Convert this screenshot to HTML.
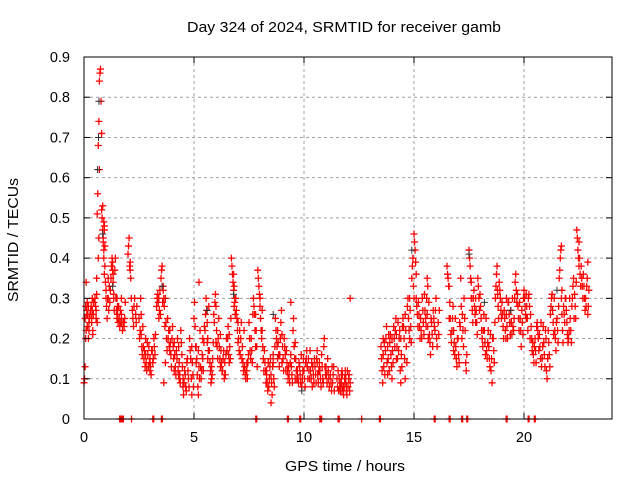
<!DOCTYPE html>
<html><head><meta charset="utf-8">
<style>
html,body{margin:0;padding:0;background:#fff;}
svg{display:block;font-family:"Liberation Sans",sans-serif;}
</style></head>
<body>
<svg id="chart" width="640" height="480" viewBox="0 0 640 480">
<rect x="0" y="0" width="640" height="480" fill="#fff"/>
<g id="grid"></g>
<g id="marksR"></g>
<g id="marksK"></g>
<rect x="84" y="57" width="528" height="362" fill="none" stroke="#000" stroke-width="1"/>
<g id="ticks"></g>
<text x="344" y="32" font-size="14.5" text-anchor="middle" textLength="314" lengthAdjust="spacingAndGlyphs">Day 324 of 2024, SRMTID for receiver gamb</text>
<text x="345" y="471" font-size="14.5" text-anchor="middle" textLength="120" lengthAdjust="spacingAndGlyphs">GPS time / hours</text>
<text x="0" y="0" font-size="14.5" text-anchor="middle" textLength="124" lengthAdjust="spacingAndGlyphs" transform="translate(18,240) rotate(-90)">SRMTID / TECUs</text>
</svg>
<script>
const xTicks=[0,5,10,15,20];
const yTicks=[0,0.1,0.2,0.3,0.4,0.5,0.6,0.7,0.8,0.9];
const yTickLabels=["0","0.1","0.2","0.3","0.4","0.5","0.6","0.7","0.8","0.9"];
const redTimes=[0.0,0.05,0.1,0.2,0.3,0.4,0.5,0.6,0.65,0.8,0.9,1.0,1.2,1.4,1.6,1.8,2.0,2.2,2.5,2.7,2.9,3.1,3.3,3.5,3.6,3.8,4.0,4.2,4.4,4.5,4.7,4.8,5.0,5.1,5.3,5.5,5.7,5.9,6.1,6.3,6.5,6.7,6.9,7.1,7.3,7.5,7.7,7.9,8.0,8.2,8.4,8.5,8.7,8.9,9.1,9.3,9.5,9.7,9.9,10.1,10.3,10.5,10.7,10.9,11.1,11.3,11.6,11.8,12.0,12.1,13.5,13.7,13.9,14.1,14.3,14.5,14.7,14.9,15.0,15.1,15.3,15.5,15.7,15.9,16.0,16.5,16.7,16.9,17.1,17.3,17.5,17.7,17.9,18.1,18.3,18.5,18.7,18.9,19.1,19.3,19.5,19.6,19.8,20.0,20.2,20.4,20.6,20.8,21.0,21.2,21.4,21.6,21.8,22.0,22.2,22.4,22.6,22.8,22.9];
const redValues=[
[0.09,0.1,0.13,0.2],[0.25,0.28,0.34,0.27],[0.22,0.26,0.29],[0.2,0.22,0.25,0.26],[0.27,0.28,0.24,0.3],[0.21,0.26,0.29],[0.3,0.28,0.25,0.35],[0.51,0.56,0.4,0.45,0.62],[0.68,0.74,0.84,0.86,0.87,0.79,0.71],[0.52,0.5,0.53,0.45,0.42,0.48,0.38],[0.49,0.47,0.43,0.34,0.3],[0.32,0.28,0.25,0.3,0.35,0.27],[0.32,0.35,0.38,0.4,0.39,0.36,0.3],[0.37,0.4,0.3,0.27,0.25,0.28],[0.25,0.23,0.27,0.24,0.3],[0.24,0.23,0.25,0.29],[0.41,0.43,0.45,0.38,0.37],[0.27,0.25,0.23,0.28,0.3],[0.25,0.2,0.22,0.3,0.26],[0.18,0.15,0.17,0.13,0.2,0.14],[0.16,0.13,0.18,0.14,0.12],[0.17,0.14,0.15,0.2],[0.28,0.3,0.31,0.29,0.25],[0.35,0.37,0.38,0.29,0.32,0.09],[0.33,0.3,0.28,0.23,0.14],[0.25,0.2,0.22,0.18,0.17],[0.2,0.23,0.18,0.15,0.12],[0.17,0.15,0.2,0.12,0.11,0.1],[0.22,0.19,0.16,0.13,0.1],[0.08,0.06,0.09,0.12],[0.15,0.12,0.1,0.08],[0.2,0.17,0.15,0.1,0.06],[0.25,0.29,0.23,0.18,0.14],[0.18,0.15,0.11,0.08,0.06,0.34],[0.13,0.1,0.12,0.16,0.2],[0.22,0.26,0.3,0.27,0.19,0.15],[0.17,0.14,0.12,0.09,0.1],[0.26,0.24,0.29,0.31,0.19],[0.2,0.25,0.18,0.15,0.13],[0.12,0.15,0.17,0.1,0.11],[0.17,0.2,0.23,0.16,0.14],[0.4,0.38,0.36,0.34,0.32,0.28,0.3],[0.3,0.27,0.25,0.22,0.19],[0.16,0.2,0.24,0.15],[0.13,0.11,0.1,0.12,0.14],[0.24,0.2,0.17,0.15],[0.3,0.28,0.26,0.22,0.18],[0.37,0.35,0.33,0.31,0.3],[0.28,0.25,0.22,0.2,0.27],[0.17,0.14,0.12,0.09,0.11],[0.08,0.1,0.13,0.15,0.04],[0.11,0.09,0.06,0.13,0.16],[0.25,0.22,0.2,0.18,0.15],[0.16,0.2,0.24,0.27,0.14],[0.2,0.18,0.16,0.12],[0.13,0.11,0.09,0.14,0.29],[0.22,0.25,0.18,0.15,0.1],[0.12,0.1,0.09,0.14],[0.08,0.1,0.12,0.15],[0.15,0.17,0.13,0.1],[0.12,0.1,0.14,0.08],[0.13,0.11,0.09,0.15,0.17],[0.14,0.12,0.1,0.08],[0.18,0.2,0.13,0.11],[0.12,0.1,0.08],[0.09,0.11,0.13,0.07],[0.1,0.08,0.07,0.09,0.11,0.12],[0.06,0.08,0.1,0.12,0.09,0.07],[0.08,0.1,0.11,0.07,0.09],[0.3],[0.18,0.15,0.12,0.09,0.2],[0.17,0.2,0.23,0.14,0.11],[0.19,0.21,0.16,0.13,0.1],[0.2,0.18,0.22,0.25,0.15],[0.17,0.2,0.22,0.12,0.09],[0.25,0.23,0.2,0.15,0.1],[0.28,0.3,0.25,0.22,0.2],[0.35,0.38,0.4,0.33,0.3],[0.46,0.44,0.42,0.39,0.36],[0.3,0.28,0.26,0.23],[0.25,0.22,0.2,0.3,0.27],[0.27,0.25,0.23,0.3,0.35,0.33],[0.21,0.19,0.16,0.25],[0.25,0.23,0.22,0.27],[0.3,0.2,0.18],[0.38,0.36,0.35,0.33,0.25],[0.19,0.22,0.25,0.28,0.17],[0.18,0.15,0.13,0.2],[0.23,0.35,0.28,0.2],[0.25,0.22,0.14,0.12,0.16],[0.42,0.4,0.38,0.35,0.3],[0.3,0.32,0.28,0.26,0.24],[0.35,0.33,0.3,0.27],[0.2,0.18,0.22,0.26],[0.17,0.15,0.19,0.22],[0.12,0.15,0.09,0.2],[0.3,0.33,0.36,0.38,0.32],[0.32,0.3,0.27,0.25],[0.27,0.25,0.22,0.2,0.3],[0.29,0.26,0.24,0.21],[0.23,0.22,0.25,0.3],[0.34,0.36,0.32,0.29],[0.29,0.25,0.22,0.18],[0.32,0.3,0.28,0.26,0.25],[0.3,0.31,0.28,0.2],[0.19,0.16,0.14,0.18],[0.24,0.22,0.2,0.17],[0.13,0.15,0.18,0.23],[0.2,0.12,0.1,0.15],[0.26,0.28,0.3,0.31],[0.22,0.2,0.17,0.24],[0.35,0.37,0.4,0.42,0.43,0.32],[0.28,0.26,0.24,0.3],[0.19,0.2,0.22,0.3],[0.3,0.33,0.35,0.25],[0.47,0.45,0.42,0.4,0.38],[0.38,0.35,0.33,0.3],[0.3,0.28,0.33,0.35,0.39],[0.26,0.28,0.32]];
const fillTimes=[0.15,0.35,0.55,0.85,1.1,1.3,1.5,1.7,2.1,2.35,2.6,2.8,3.0,3.2,3.4,3.7,3.9,4.1,4.3,4.6,4.9,5.2,5.4,5.6,5.8,6.0,6.2,6.4,6.6,6.8,7.0,7.2,7.4,7.6,7.8,8.1,8.3,8.6,8.8,9.0,9.2,9.4,9.6,9.8,10.0,10.2,10.4,10.6,10.8,11.0,11.2,11.5,11.7,11.9,13.6,13.8,14.0,14.2,14.4,14.6,14.8,15.2,15.4,15.6,15.8,16.1,16.6,16.8,17.0,17.2,17.6,17.8,18.0,18.2,18.4,18.6,18.8,19.0,19.2,19.4,19.7,19.9,20.1,20.3,20.5,20.7,20.9,21.1,21.3,21.5,21.7,21.9,22.1,22.3,22.5,22.7];
const fillValues=[[0.23,0.26,0.28,0.24],[0.25,0.27,0.22,0.29],[0.27,0.31,0.24],[0.47,0.44,0.4,0.36],[0.3,0.27,0.33,0.29],[0.37,0.34,0.31,0.27],[0.3,0.26,0.24,0.28],[0.26,0.24,0.22],[0.39,0.35,0.3],[0.26,0.24,0.28],[0.21,0.18,0.16,0.23],[0.16,0.14,0.12,0.19],[0.15,0.13,0.11,0.17],[0.18,0.16,0.21],[0.3,0.27,0.32,0.26],[0.3,0.24,0.2,0.17],[0.22,0.19,0.16,0.13],[0.19,0.16,0.13,0.11],[0.18,0.14,0.11,0.09],[0.11,0.08,0.07,0.14],[0.18,0.14,0.11,0.08],[0.17,0.13,0.1,0.22],[0.15,0.12,0.19,0.23],[0.24,0.2,0.17,0.28],[0.13,0.11,0.15,0.19],[0.28,0.22,0.18,0.15],[0.21,0.17,0.14,0.12],[0.14,0.11,0.16,0.2],[0.21,0.18,0.15,0.25],[0.36,0.33,0.29,0.26],[0.24,0.2,0.17,0.22],[0.18,0.14,0.12,0.22],[0.12,0.1,0.14,0.16],[0.2,0.17,0.14,0.26],[0.26,0.22,0.18,0.13],[0.22,0.18,0.15,0.12],[0.12,0.09,0.07,0.14],[0.14,0.1,0.08,0.18],[0.22,0.19,0.16,0.13],[0.21,0.18,0.15,0.12],[0.17,0.14,0.12,0.1],[0.16,0.13,0.11,0.09],[0.19,0.15,0.12,0.1],[0.13,0.11,0.09,0.16],[0.12,0.1,0.08,0.14],[0.15,0.12,0.1,0.17],[0.13,0.11,0.09,0.15],[0.14,0.11,0.09,0.12],[0.16,0.13,0.1,0.09],[0.13,0.11,0.09,0.15],[0.11,0.09,0.07,0.13],[0.1,0.08,0.12,0.07],[0.09,0.07,0.11,0.08],[0.1,0.08,0.06,0.12],[0.16,0.13,0.19,0.11],[0.18,0.15,0.21,0.12],[0.2,0.17,0.14,0.23],[0.21,0.18,0.15,0.24],[0.2,0.16,0.13,0.23],[0.26,0.22,0.18,0.14],[0.3,0.27,0.23,0.19],[0.29,0.26,0.23,0.2],[0.27,0.24,0.21,0.31],[0.26,0.23,0.2,0.29],[0.24,0.21,0.18,0.27],[0.24,0.21,0.27],[0.33,0.29,0.25,0.21],[0.22,0.19,0.16,0.25],[0.2,0.16,0.14,0.24],[0.26,0.22,0.18,0.3],[0.34,0.3,0.27,0.24],[0.3,0.27,0.24,0.21],[0.31,0.28,0.25,0.22],[0.22,0.19,0.16,0.25],[0.18,0.15,0.13,0.21],[0.2,0.17,0.14,0.24],[0.31,0.28,0.25,0.34],[0.29,0.26,0.23,0.2],[0.26,0.23,0.2,0.29],[0.27,0.24,0.21,0.3],[0.31,0.28,0.25,0.22],[0.27,0.24,0.21,0.3],[0.31,0.28,0.25,0.22],[0.26,0.23,0.2,0.17],[0.2,0.17,0.14,0.23],[0.21,0.18,0.15,0.24],[0.19,0.16,0.13,0.22],[0.22,0.19,0.16,0.13],[0.27,0.24,0.21,0.3],[0.25,0.22,0.19,0.28],[0.3,0.26,0.22,0.19],[0.3,0.27,0.24,0.21],[0.25,0.22,0.19,0.28],[0.31,0.28,0.25,0.34],[0.44,0.4,0.36,0.33],[0.36,0.33,0.3,0.27]];
const zeroTimes=[1.62,1.66,1.7,1.75,1.79,2.16,3.13,3.17,3.52,3.56,7.81,7.85,9.25,9.29,9.81,9.85,10.72,10.76,10.8,11.55,11.6,12.62,13.43,13.47,15.92,15.96,16.6,16.64,17.17,17.21,17.4,17.44,19.19,19.23,20.19,20.23,20.47,20.51];
const blackTimes=[0.62,0.66,0.68,0.85,1.3,3.55,5.6,6.8,8.6,9.9,14.9,17.5,18.2,19.4,21.5];
const blackValues=[0.62,0.7,0.79,0.46,0.33,0.33,0.27,0.31,0.26,0.07,0.42,0.41,0.29,0.27,0.32];

const L=84,R=612,T=57,B=419,XMAX=24,YMAX=0.9;
const xs=t=>L+t/XMAX*(R-L);
const ys=v=>B-v/YMAX*(B-T);
const NS="http://www.w3.org/2000/svg";
function mk(tag,attrs,parent){const e=document.createElementNS(NS,tag);for(const k in attrs)e.setAttribute(k,attrs[k]);parent.appendChild(e);return e;}
const grid=document.getElementById('grid'),ticks=document.getElementById('ticks');
xTicks.forEach((t,i)=>{
  const x=xs(t);
  if(t>0){const g=mk('line',{x1:x,y1:T,x2:x,y2:B,stroke:'#a0a0a0','stroke-dasharray':'3,3'},grid);
  
  }
  const a=mk('line',{x1:x,y1:B,x2:x,y2:B-6,stroke:'#000'},ticks);
  
  
  const b=mk('line',{x1:x,y1:T,x2:x,y2:T+6,stroke:'#000'},ticks);
  
  
  const lb=mk('text',{x:x,y:442,'font-size':'14.5','text-anchor':'middle'},ticks);
  lb.textContent=String(t);
  
  
});
yTicks.forEach((v,i)=>{
  const y=ys(v);
  if(v>0&&v<YMAX){const g=mk('line',{x1:L,y1:y,x2:R,y2:y,stroke:'#a0a0a0','stroke-dasharray':'3,3'},grid);
  
  }
  const a=mk('line',{x1:L,y1:y,x2:L+6,y2:y,stroke:'#000'},ticks);
  
  
  const b=mk('line',{x1:R,y1:y,x2:R-6,y2:y,stroke:'#000'},ticks);
  
  
  const lb=mk('text',{x:70,y:y+5,'font-size':'14.5','text-anchor':'end'},ticks);
  lb.textContent=yTickLabels[i];
  
  
});
function cross(t,v){const x=xs(t),y=ys(v);return `M${x-3.5},${y}h7M${x},${y-3.5}v7`;}
let dr='';
redTimes.forEach((t,i)=>{redValues[i].forEach((v,j)=>{dr+=cross(t+j*0.025,v);});});
fillTimes.forEach((t,i)=>{fillValues[i].forEach((v,j)=>{dr+=cross(t+j*0.025,v);});});
zeroTimes.forEach(t=>{dr+=cross(t,0);});
const pr=mk('path',{d:dr,stroke:'#ff0000','stroke-width':'1.3',fill:'none'},document.getElementById('marksR'));


let dk='';
blackTimes.forEach((t,i)=>{dk+=cross(t,blackValues[i]);});
const pk=mk('path',{d:dk,stroke:'#333','stroke-width':'1',fill:'none'},document.getElementById('marksK'));


</script>
</body></html>
